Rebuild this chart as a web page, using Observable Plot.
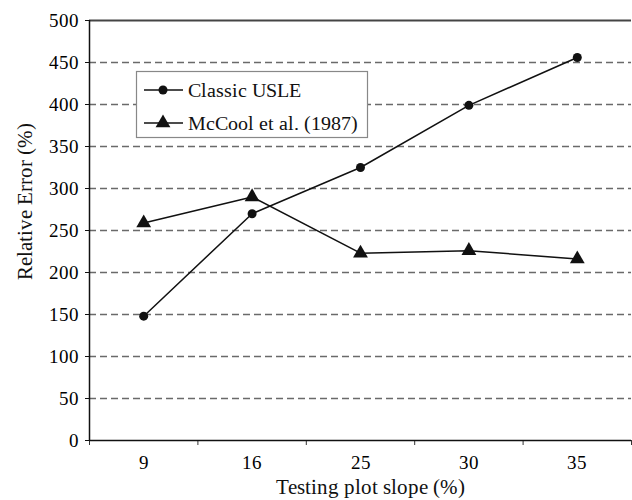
<!DOCTYPE html>
<html>
<head>
<meta charset="utf-8">
<script src="https://cdn.jsdelivr.net/npm/d3@7"></script>
<script src="https://cdn.jsdelivr.net/npm/@observablehq/plot@0.6"></script>
<style>
  @font-face { font-family: "RefSerif"; src: local("Liberation Serif"), local("LiberationSerif"), local("LiberationSerif-Regular"); font-display: swap; }
  body { margin: 0; background: #fff; font-size: 20px; font-family: "RefSerif", "Liberation Serif", serif; }
  svg, svg text { font-family: "RefSerif", "Liberation Serif", serif !important; }
</style>
</head>
<body>
<div id="p"></div>
<script>
const slopes = ["9", "16", "25", "30", "35"];
const usle = [148, 270, 325, 399, 456];
const mccool = [259, 290, 223, 226, 216];
const seriesNames = ["Classic USLE", "McCool et al. (1987)"];
const yTicks = [0, 50, 100, 150, 200, 250, 300, 350, 400, 450, 500];
const gridValues = [50, 100, 150, 200, 250, 300, 350, 400, 450];
const xTitle = "Testing plot slope (%)";
const yTitle = "Relative Error (%)";

const FONT = "RefSerif, Liberation Serif, serif";
const idx = slopes.map((d, i) => i);
const boundaries = slopes.map((d, i) => i - 0.5).concat([slopes.length - 0.5]);
const rowsA = slopes.map((s, i) => ({i, value: usle[i]}));
const rowsB = slopes.map((s, i) => ({i, value: mccool[i]}));

const chart = Plot.plot({
  width: 632,
  height: 500,
  marginLeft: 89,
  marginRight: 1,
  marginTop: 20,
  marginBottom: 60,
  style: {fontFamily: FONT, fontSize: "19px"},
  x: {type: "linear", domain: [-0.5, slopes.length - 0.5]},
  y: {domain: [0, 500]},
  marks: [
    Plot.ruleY(gridValues, {stroke: "#6a6a6a", strokeWidth: 1.3, strokeDasharray: "7,4"}),
    Plot.ruleY([500], {stroke: "#444", strokeWidth: 2}),
    Plot.axisY({ticks: yTicks, tickSize: 4, tickPadding: 7, fontSize: 19, fontFamily: FONT, label: null, stroke: "#111"}),
    Plot.axisX({ticks: idx, tickFormat: i => slopes[i], tickSize: 0, tickPadding: 15, fontSize: 19, fontFamily: FONT, label: null}),
    Plot.axisX({ticks: boundaries, tickFormat: () => "", tickSize: 5, label: null, stroke: "#333"}),
    Plot.ruleX([-0.5], {stroke: "#111", strokeWidth: 1.5}),
    Plot.ruleY([0], {stroke: "#111", strokeWidth: 1.5}),
    Plot.line(rowsA, {x: "i", y: "value", stroke: "#111", strokeWidth: 1.5}),
    Plot.line(rowsB, {x: "i", y: "value", stroke: "#111", strokeWidth: 1.5}),
    Plot.dot(rowsA, {x: "i", y: "value", r: 4.5, fill: "#111", symbol: "circle"}),
    Plot.dot(rowsB, {x: "i", y: "value", r: 5.5, fill: "#111", symbol: "triangle"}),
    Plot.text([yTitle], {frameAnchor: "left", textAnchor: "middle", lineAnchor: "middle", rotate: -90, dx: -64, dy: -29, fontSize: 21, fontFamily: FONT, fill: "#111"}),
    Plot.text([xTitle], {frameAnchor: "bottom", textAnchor: "middle", lineAnchor: "middle", dy: 47, dx: 10, fontSize: 21, fontFamily: FONT, fill: "#111"})
  ]
});
document.getElementById("p").append(chart);

// Legend, drawn into the chart's SVG
const svg = d3.select(chart);
const lg = svg.append("g").attr("transform", "translate(136,71)").attr("text-anchor", "start");
lg.append("rect").attr("x", 0.5).attr("y", 0.5).attr("width", 231).attr("height", 66)
  .attr("fill", "#fff").attr("stroke", "#888").attr("stroke-width", 1.2);
const sym = [d3.symbolCircle, d3.symbolTriangle];
const sizes = [64, 95];
seriesNames.forEach((name, k) => {
  const cy = 19 + k * 33;
  const g = lg.append("g").attr("transform", `translate(0,${cy})`);
  g.append("line").attr("x1", 8).attr("x2", 47).attr("y1", 0).attr("y2", 0).attr("stroke", "#111").attr("stroke-width", 1.5);
  g.append("path").attr("d", d3.symbol(sym[k], sizes[k])()).attr("transform", "translate(27,0)").attr("fill", "#111");
  g.append("text").attr("x", 52).attr("y", 0).attr("dy", "0.35em").attr("font-size", 20)
    .attr("text-anchor", "start").attr("font-family", FONT).attr("fill", "#111").text(name);
});
</script>
</body>
</html>
